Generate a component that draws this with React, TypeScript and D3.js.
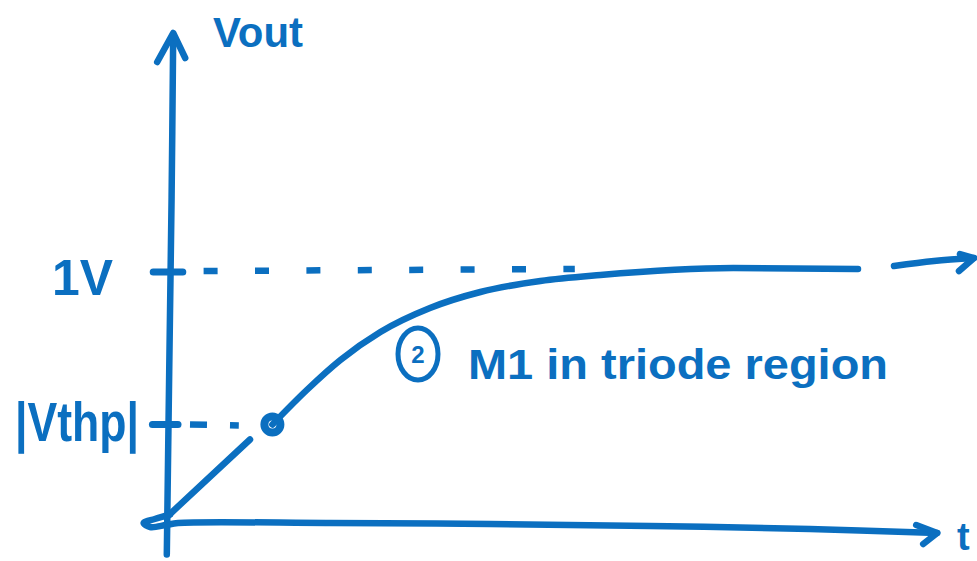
import React from "react";
import * as d3 from "d3";

// Output voltage sketch: Vout vs t, charging toward 1 V.
const INK = "#0b6fc0";

const V_FINAL = 1; // "1V" level
const V_THP = 0.39; // |Vthp| level

// Early, nearly linear rise up to |Vthp|
const riseT = [-0.04, 1.0];
const riseV = [0.02, 0.33];

// Triode-region settling toward 1 V
const triodeT = [1.28, 1.71, 2.13, 2.63, 3.25, 3.88, 4.63, 5.38, 7.04, 8.6];
const triodeV = [0.39, 0.528, 0.648, 0.76, 0.856, 0.92, 0.964, 0.988, 1.016, 1.012];

// Final stroke that continues past the frame as an arrow
const tailT = [9.05, 9.55, 10.05];
const tailV = [1.024, 1.044, 1.056];

const levelLabels = ["1V", "|Vthp|"];

const W = 977;
const H = 561;

export default function App() {
  const x = d3.scaleLinear().domain([0, 10]).range([170, 970]);
  const y = d3.scaleLinear().domain([0, 2]).range([522, 22]);

  const smooth = d3
    .line<[number, number]>()
    .x((d) => x(d[0]))
    .y((d) => y(d[1]))
    .curve(d3.curveCatmullRom.alpha(0.5));
  const monotone = d3
    .line<[number, number]>()
    .x((d) => x(d[0]))
    .y((d) => y(d[1]))
    .curve(d3.curveMonotoneX);
  const straight = d3
    .line<[number, number]>()
    .x((d) => x(d[0]))
    .y((d) => y(d[1]));

  const zip = (ts: number[], vs: number[]) =>
    ts.map((t, i) => [t, vs[i]] as [number, number]);

  const risePath = straight(zip(riseT, riseV));
  const triodePath = monotone(zip(triodeT, triodeV));
  const tailPath = smooth(zip(tailT, tailV));

  // vertical axis, slightly leaning like a pen stroke
  const yAxisPath = smooth([
    [-0.04, -0.13],
    [-0.01, 0.6],
    [0.02, 1.3],
    [0.04, 1.95],
  ]);
  const yTip: [number, number] = [x(0.04), y(1.956)];

  // horizontal axis, starting with the small pen loop at the origin
  const xAxisPts: [number, number][] = [
    [0.0, 0.03],
    [-0.19, 0.012],
    [-0.33, -0.004],
    [-0.25, -0.02],
    [-0.05, -0.012],
    [0.1, -0.004],
    [2.0, -0.004],
    [4.0, -0.008],
    [6.0, -0.016],
    [8.0, -0.028],
    [9.59, -0.044],
  ];
  const xAxisPath = smooth(xAxisPts);
  const xTip: [number, number] = [x(9.59), y(-0.044)];
  const tailTip: [number, number] = [x(tailT[2]), y(tailV[2])];

  const dot: [number, number] = [x(triodeT[0]), y(V_THP)];

  const stroke = {
    fill: "none",
    stroke: INK,
    strokeWidth: 6.5,
    strokeLinecap: "round" as const,
    strokeLinejoin: "round" as const,
  };
  const font = {
    fontFamily: "'Liberation Sans', 'DejaVu Sans', sans-serif",
    fontWeight: 700,
    fill: INK,
  };

  return (
    <svg
      width={W}
      height={H}
      viewBox={`0 0 ${W} ${H}`}
      style={{ position: "absolute", left: 0, top: 0, background: "#fff" }}
    >
      {/* axes */}
      <path d={yAxisPath ?? ""} {...stroke} />
      <path
        d={`M${yTip[0] - 16},${yTip[1] + 29} L${yTip[0]},${yTip[1]} L${yTip[0] + 12},${yTip[1] + 25}`}
        {...stroke}
      />
      <path d={xAxisPath ?? ""} {...stroke} />
      <path
        d={`M${xTip[0] - 21},${xTip[1] - 8} L${xTip[0]},${xTip[1]} L${xTip[0] - 14},${xTip[1] + 11}`}
        {...stroke}
      />

      {/* 1 V reference */}
      <line x1={x(-0.21)} x2={x(0.16)} y1={y(V_FINAL)} y2={y(V_FINAL)} {...stroke} strokeWidth={7} />
      <line
        x1={x(0.42)}
        x2={x(5.06)}
        y1={y(V_FINAL) - 1}
        y2={y(V_FINAL) - 3}
        {...stroke}
        strokeLinecap="butt"
        strokeDasharray="14 37.4"
      />

      {/* |Vthp| reference */}
      <line x1={x(-0.22)} x2={x(0.1)} y1={y(V_THP)} y2={y(V_THP)} {...stroke} strokeWidth={7} />
      <line
        x1={x(0.25)}
        x2={x(0.86)}
        y1={y(V_THP)}
        y2={y(V_THP) + 1}
        {...stroke}
        strokeLinecap="butt"
        strokeDasharray="17 23"
      />

      {/* Vout trajectory */}
      <path d={risePath ?? ""} {...stroke} />
      <path d={triodePath ?? ""} {...stroke} />
      <circle cx={dot[0]} cy={dot[1]} r={8} fill="none" stroke={INK} strokeWidth={8} />
      <path d={tailPath ?? ""} {...stroke} />
      <path
        d={`M${tailTip[0] - 14},${tailTip[1] - 4} L${tailTip[0]},${tailTip[1]} L${tailTip[0] - 15},${tailTip[1] + 13}`}
        {...stroke}
      />

      {/* axis titles */}
      <text x={213} y={47} fontSize={42} textLength={90} lengthAdjust="spacingAndGlyphs" {...font}>
        Vout
      </text>
      <text x={957} y={550} fontSize={38} {...font}>
        t
      </text>

      {/* level labels */}
      <text x={52} y={295} fontSize={50} textLength={61} lengthAdjust="spacingAndGlyphs" {...font}>
        {levelLabels[0]}
      </text>
      <text x={15} y={441} fontSize={56} textLength={124} lengthAdjust="spacingAndGlyphs" {...font}>
        {levelLabels[1]}
      </text>

      {/* region annotation */}
      <ellipse cx={418} cy={354} rx={20} ry={26} fill="none" stroke={INK} strokeWidth={5} />
      <text x={418} y={363} fontSize={24} textAnchor="middle" {...font}>
        2
      </text>
      <text x={468} y={379} fontSize={42} textLength={420} lengthAdjust="spacingAndGlyphs" {...font}>
        M1 in triode region
      </text>
    </svg>
  );
}
